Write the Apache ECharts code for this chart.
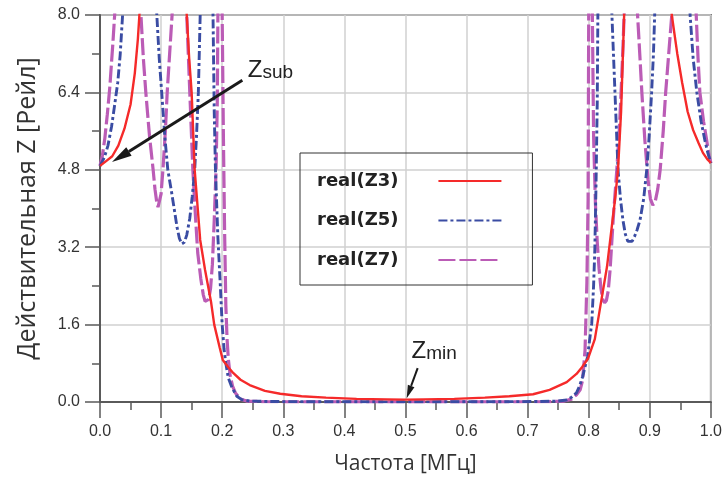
<!DOCTYPE html>
<html>
<head>
<meta charset="utf-8">
<script src="https://cdn.jsdelivr.net/npm/echarts@6/dist/echarts.min.js"></script>
<style>
  html, body { margin: 0; padding: 0; background: #fff; }
  #chart { width: 725px; height: 489px; }
</style>
</head>
<body>
<div id="chart"></div>
<script>
// Axis ranges and tick steps
const freqRange = [0, 1.0];
const freqStep = 0.1;
const realRange = [0, 8.0];
const realStep = 1.6;

// Series names
const seriesNames = ['real(Z3)', 'real(Z5)', 'real(Z7)'];

// real(Z3): [frequency, MHz ; real impedance, Rayl]
const realZ3 = [
  [0, 4.88], [0.01, 4.98], [0.02, 5.08], [0.03, 5.3], [0.04, 5.65], [0.05, 6.15],
  [0.057, 6.8], [0.062, 7.5], [0.066, 8.3], [0.07, 9.5], [0.1, 14], [0.138, 9.0],
  [0.142, 8.0], [0.146, 7.1], [0.15, 6.4], [0.155, 4.8], [0.16, 4.0], [0.164, 3.35],
  [0.172, 2.73], [0.182, 2.05], [0.187, 1.6], [0.196, 1.12], [0.201, 0.87], [0.21, 0.72],
  [0.218, 0.6], [0.23, 0.46], [0.245, 0.35], [0.27, 0.23], [0.295, 0.17], [0.33, 0.12],
  [0.37, 0.09], [0.42, 0.065], [0.47, 0.055], [0.5, 0.05], [0.53, 0.055], [0.58, 0.065],
  [0.63, 0.09], [0.67, 0.12], [0.709, 0.16], [0.736, 0.25], [0.764, 0.41], [0.78, 0.58],
  [0.789, 0.72], [0.799, 0.9], [0.81, 1.3], [0.818, 1.9], [0.83, 2.8], [0.843, 4.18],
  [0.848, 4.8], [0.853, 6.0], [0.858, 8.0], [0.862, 9.5], [0.9, 14], [0.932, 9.0],
  [0.936, 8.0], [0.945, 7.2], [0.953, 6.6], [0.962, 6.0], [0.971, 5.62], [0.98, 5.35],
  [0.987, 5.15], [0.994, 5.02], [1.0, 4.94]
];

// real(Z5)
const realZ5 = [
  [0, 4.88], [0.007, 5.05], [0.013, 5.3], [0.019, 5.7], [0.024, 6.14], [0.029, 6.6],
  [0.033, 7.17], [0.037, 8.0], [0.04, 9], [0.065, 14], [0.09, 9], [0.093, 8.0],
  [0.097, 7.1], [0.101, 6.4], [0.106, 5.5], [0.111, 4.8], [0.117, 4.35], [0.122, 3.95],
  [0.126, 3.62], [0.13, 3.38], [0.134, 3.27], [0.138, 3.3], [0.142, 3.45], [0.147, 3.8],
  [0.151, 4.25], [0.155, 4.8], [0.158, 5.5], [0.161, 6.4], [0.164, 8.0], [0.167, 9.5],
  [0.175, 14], [0.182, 9.5], [0.185, 8.0], [0.187, 6.0], [0.189, 4.8], [0.193, 3.4],
  [0.197, 2.4], [0.2, 1.6], [0.203, 1.1], [0.206, 0.8], [0.21, 0.5], [0.216, 0.3],
  [0.224, 0.12], [0.232, 0.05], [0.245, 0.02], [0.28, 0.01], [0.35, 0.005], [0.5, 0.003],
  [0.65, 0.005], [0.72, 0.01], [0.75, 0.02], [0.764, 0.04], [0.772, 0.1], [0.78, 0.19],
  [0.785, 0.33], [0.79, 0.52], [0.798, 0.93], [0.805, 1.63], [0.808, 2.4], [0.81, 3.14],
  [0.812, 4.5], [0.814, 6.2], [0.815, 8.0], [0.818, 9.5], [0.826, 14], [0.835, 9.5],
  [0.838, 8.0], [0.843, 6.4], [0.848, 4.8], [0.852, 4.2], [0.856, 3.76], [0.86, 3.47],
  [0.864, 3.32], [0.867, 3.29], [0.871, 3.32], [0.875, 3.42], [0.879, 3.55], [0.884, 3.76],
  [0.89, 4.2], [0.895, 4.8], [0.899, 5.5], [0.903, 6.4], [0.906, 7.2], [0.908, 8.0],
  [0.912, 9.5], [0.94, 14], [0.963, 9.0], [0.966, 8.0], [0.971, 7.1], [0.977, 6.4],
  [0.984, 5.8], [0.99, 5.42], [0.995, 5.15], [1.0, 4.94]
];

// real(Z7)
const realZ7 = [
  [0, 4.88], [0.004, 5.1], [0.008, 5.46], [0.012, 5.95], [0.016, 6.5], [0.021, 7.4],
  [0.024, 8.0], [0.027, 9], [0.045, 14], [0.064, 9], [0.067, 8.0], [0.071, 7.1],
  [0.075, 6.4], [0.081, 5.5], [0.087, 4.8], [0.09, 4.4], [0.093, 4.12], [0.095, 4.03],
  [0.097, 4.07], [0.1, 4.3], [0.103, 4.8], [0.107, 5.6], [0.11, 6.4], [0.114, 7.2],
  [0.118, 8.0], [0.121, 9], [0.13, 14], [0.139, 9], [0.142, 8.0], [0.147, 6.4],
  [0.152, 4.8], [0.156, 3.9], [0.16, 3.08], [0.165, 2.55], [0.169, 2.22], [0.172, 2.08],
  [0.175, 2.05], [0.178, 2.12], [0.181, 2.35], [0.184, 2.85], [0.187, 3.76], [0.19, 4.8],
  [0.192, 6.2], [0.193, 8.0], [0.195, 10], [0.198, 10], [0.2, 8.0], [0.202, 5.5],
  [0.204, 3.5], [0.206, 2.0], [0.208, 1.3], [0.21, 0.9], [0.213, 0.55], [0.217, 0.33],
  [0.222, 0.18], [0.23, 0.06], [0.24, 0.02], [0.27, 0.005], [0.5, 0.002], [0.73, 0.005],
  [0.76, 0.02], [0.772, 0.06], [0.78, 0.15], [0.786, 0.25], [0.79, 0.45], [0.794, 1.07],
  [0.797, 2.46], [0.799, 4.18], [0.8, 8.0], [0.802, 10], [0.804, 10], [0.806, 8.0],
  [0.808, 5.5], [0.811, 4.1], [0.814, 3.3], [0.817, 2.75], [0.82, 2.35], [0.823, 2.12],
  [0.826, 2.05], [0.829, 2.1], [0.832, 2.3], [0.835, 2.73], [0.84, 3.76], [0.846, 4.8],
  [0.85, 5.6], [0.853, 6.4], [0.856, 7.3], [0.858, 8.0], [0.861, 9], [0.87, 14],
  [0.877, 9], [0.88, 8.0], [0.884, 7.1], [0.887, 6.4], [0.892, 5.4], [0.897, 4.6],
  [0.901, 4.2], [0.905, 4.07], [0.909, 4.15], [0.913, 4.4], [0.917, 4.8], [0.922, 5.6],
  [0.926, 6.4], [0.931, 7.2], [0.936, 8.0], [0.94, 9], [0.955, 14], [0.973, 9],
  [0.976, 8.0], [0.979, 7.1], [0.982, 6.4], [0.988, 5.8], [0.993, 5.42], [0.997, 5.1],
  [1.0, 4.94]
];

// Annotation anchors in data units: tail, tip and label position
const subArrow = { tail: [0.233, 6.65], tip: [0.0196, 4.96], label: [0.242, 6.6] };
const minArrow = { tail: [0.52, 0.70], tip: [0.502, 0.08], label: [0.51, 0.80] };

const axisColor = '#5a5a5a';
const labelFont = 'Liberation Sans';
const titleFont = 'Open Sans';

const chart = echarts.init(document.getElementById('chart'), null, { renderer: 'canvas' });

function lineSeries(name, data, color, width, dash, z) {
  return {
    name: name,
    type: 'line',
    data: data,
    symbol: 'none',
    clip: true,
    z: z,
    lineStyle: { color: color, width: width, type: dash },
    itemStyle: { color: color },
    emphasis: { disabled: true },
    animation: false
  };
}

chart.setOption({
  animation: false,
  grid: {
    left: 100, right: 14, top: 15, bottom: 87,
    show: true, borderColor: '#6a6a6a', borderWidth: 2, backgroundColor: 'transparent'
  },
  legend: {
    orient: 'vertical',
    left: 300, top: 153,
    padding: [19, 30, 16, 17],
    itemGap: 21.5,
    itemWidth: 63,
    itemHeight: 14,
    align: 'right',
    borderColor: '#333', borderWidth: 1,
    selectedMode: false,
    data: seriesNames,
    itemStyle: { opacity: 0 },
    textStyle: {
      fontFamily: 'DejaVu Sans', fontWeight: 'bold', fontSize: 18, color: '#222',
      lineHeight: 18, padding: [0, 35, 0, 0]
    }
  },
  xAxis: {
    type: 'value',
    min: freqRange[0], max: freqRange[1], interval: freqStep,
    name: 'Частота [МГц]',
    nameLocation: 'middle',
    nameGap: 52,
    nameTextStyle: { fontFamily: titleFont, fontSize: 21, color: '#333' },
    axisLine: { lineStyle: { color: axisColor, width: 2 } },
    axisTick: { inside: false, length: 16, lineStyle: { color: axisColor, width: 1.5 } },
    minorTick: { show: true, splitNumber: 2, length: 8, lineStyle: { color: axisColor, width: 1.5 } },
    axisLabel: {
      margin: 22, fontFamily: labelFont, fontSize: 16, color: '#333',
      formatter: v => v.toFixed(1)
    },
    splitLine: { show: true, lineStyle: { color: '#d0d0d0', width: 1.5 } }
  },
  yAxis: {
    type: 'value',
    min: realRange[0], max: realRange[1], interval: realStep,
    name: 'Действительная Z [Рейл]',
    nameLocation: 'middle',
    nameGap: 60,
    nameTextStyle: { fontFamily: titleFont, fontSize: 25, color: '#333' },
    axisLine: { show: true, lineStyle: { color: axisColor, width: 2 } },
    axisTick: { show: true, inside: false, length: 15, lineStyle: { color: axisColor, width: 1.5 } },
    minorTick: { show: true, splitNumber: 2, length: 8, lineStyle: { color: axisColor, width: 1.5 } },
    axisLabel: {
      margin: 20, fontFamily: labelFont, fontSize: 16, color: '#333',
      formatter: v => v.toFixed(1)
    },
    splitLine: { show: true, lineStyle: { color: '#d0d0d0', width: 1.5 } }
  },
  series: [
    lineSeries(seriesNames[2], realZ7, '#bb5cb6', 3.2, [17, 4], 2),
    lineSeries(seriesNames[1], realZ5, '#3a4ca3', 2.9, [9, 3, 3, 3], 3),
    lineSeries(seriesNames[0], realZ3, '#f52a2a', 2.4, 'solid', 4)
  ]
});

// Arrow annotations, placed from data coordinates
function arrow(a, headLen, headWidth, lineWidth) {
  const s = chart.convertToPixel({ gridIndex: 0 }, a.tail);
  const t = chart.convertToPixel({ gridIndex: 0 }, a.tip);
  const dx = t[0] - s[0], dy = t[1] - s[1];
  const len = Math.hypot(dx, dy);
  const ux = dx / len, uy = dy / len;
  const bx = t[0] - ux * headLen, by = t[1] - uy * headLen;
  const nx = -uy * headWidth / 2, ny = ux * headWidth / 2;
  return [
    {
      type: 'line', z: 50,
      shape: { x1: s[0], y1: s[1], x2: bx, y2: by },
      style: { stroke: '#1a1a1a', lineWidth: lineWidth }
    },
    {
      type: 'polygon', z: 50,
      shape: { points: [[t[0], t[1]], [bx + nx, by + ny], [bx - nx, by - ny]] },
      style: { fill: '#1a1a1a' }
    }
  ];
}

function subscriptLabel(pos, sub) {
  return {
    type: 'text', z: 50, x: pos[0], y: pos[1],
    style: {
      text: '{z|Z}{s|' + sub + '}',
      verticalAlign: 'bottom',
      rich: {
        z: { fontFamily: labelFont, fontSize: 24, fill: '#222' },
        s: { fontFamily: labelFont, fontSize: 19, fill: '#222', verticalAlign: 'bottom' }
      }
    }
  };
}

chart.setOption({
  graphic: [
    ...arrow(subArrow, 20, 10, 3),
    ...arrow(minArrow, 13, 7, 2),
    subscriptLabel(chart.convertToPixel({ gridIndex: 0 }, subArrow.label), 'sub'),
    subscriptLabel(chart.convertToPixel({ gridIndex: 0 }, minArrow.label), 'min')
  ]
});
</script>
</body>
</html>
